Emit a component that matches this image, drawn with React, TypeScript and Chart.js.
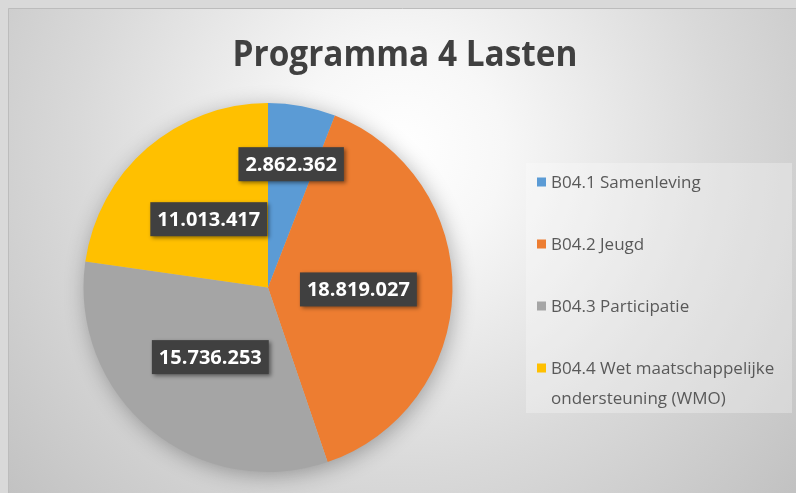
import React, { useEffect, useRef } from "react";
import { Chart, registerables } from "chart.js";

Chart.register(...registerables);

const W = 796;
const H = 493;

const chartTitle = "Programma 4 Lasten";
const categories: (string | string[])[] = [
  "B04.1 Samenleving",
  "B04.2 Jeugd",
  "B04.3 Participatie",
  ["B04.4 Wet maatschappelijke", "ondersteuning (WMO)"],
];
const lasten = [2862362, 18819027, 15736253, 11013417];
const sliceColors = ["#5B9BD5", "#ED7D31", "#A5A5A5", "#FFC000"];

// label distance from centre, as a fraction of the radius (style only)
const labelRadiusFactor = [0.68, 0.49, 0.49, 0.49];

const fmt = (v: number) => String(v).replace(/\B(?=(\d{3})+(?!\d))/g, ".");

const backgroundPlugin = {
  id: "excelBackground",
  beforeDraw(chart: any) {
    const ctx: CanvasRenderingContext2D = chart.ctx;
    ctx.save();
    ctx.fillStyle = "#d9d9d9";
    ctx.fillRect(0, 0, W, H);
    const g = ctx.createRadialGradient(400, 150, 0, 400, 150, 520);
    g.addColorStop(0, "#ffffff");
    g.addColorStop(0.2, "#f7f7f7");
    g.addColorStop(0.62, "#d9d9d9");
    g.addColorStop(1, "#c2c2c2");
    ctx.fillStyle = g;
    ctx.fillRect(8, 8, W - 8, H - 8);
    ctx.strokeStyle = "#bcbcbc";
    ctx.lineWidth = 1;
    ctx.beginPath();
    ctx.moveTo(8.5, H);
    ctx.lineTo(8.5, 8.5);
    ctx.lineTo(W, 8.5);
    ctx.stroke();

    // title
    ctx.font = 'bold 36px "Open Sans", sans-serif';
    const tw = ctx.measureText(chartTitle).width;
    const target = 345;
    const sx = target / tw;
    ctx.fillStyle = "#404040";
    ctx.textBaseline = "alphabetic";
    ctx.textAlign = "left";
    ctx.translate(405 - target / 2, 66);
    ctx.scale(sx, 1);
    ctx.fillText(chartTitle, 0, 0);
    ctx.restore();
  },
  beforeDatasetsDraw(chart: any) {
    const meta = chart.getDatasetMeta(0);
    if (!meta.data.length) return;
    const { x, y, outerRadius } = meta.data[0].getProps(["x", "y", "outerRadius"], true);
    const ctx: CanvasRenderingContext2D = chart.ctx;
    ctx.save();
    ctx.shadowColor = "rgba(0,0,0,0.32)";
    ctx.shadowBlur = 22;
    ctx.shadowOffsetX = 2;
    ctx.shadowOffsetY = 4;
    ctx.fillStyle = "#bbbbbb";
    ctx.beginPath();
    ctx.arc(x, y, outerRadius - 1, 0, Math.PI * 2);
    ctx.fill();
    ctx.restore();
  },
  afterDatasetsDraw(chart: any) {
    const meta = chart.getDatasetMeta(0);
    const ctx: CanvasRenderingContext2D = chart.ctx;
    const values = chart.data.datasets[0].data as number[];
    meta.data.forEach((arc: any, i: number) => {
      const { x, y, startAngle, endAngle, outerRadius } = arc.getProps(
        ["x", "y", "startAngle", "endAngle", "outerRadius"],
        true
      );
      const mid = (startAngle + endAngle) / 2;
      const r = outerRadius * labelRadiusFactor[i];
      const px = x + Math.cos(mid) * r;
      const py = y + Math.sin(mid) * r;
      const text = fmt(values[i]);
      ctx.save();
      ctx.font = 'bold 20px "Open Sans", sans-serif';
      const tw = ctx.measureText(text).width;
      const bw = tw + 14;
      const bh = 34;
      ctx.shadowColor = "rgba(0,0,0,0.45)";
      ctx.shadowBlur = 4;
      ctx.shadowOffsetX = 2;
      ctx.shadowOffsetY = 2;
      ctx.fillStyle = "#404040";
      ctx.fillRect(px - bw / 2, py - bh / 2, bw, bh);
      ctx.shadowColor = "transparent";
      ctx.fillStyle = "#ffffff";
      ctx.textAlign = "center";
      ctx.textBaseline = "middle";
      ctx.fillText(text, px, py + 1);
      ctx.restore();
    });
  },
  afterDraw(chart: any) {
    const ctx: CanvasRenderingContext2D = chart.ctx;
    const labels = chart.data.labels as (string | string[])[];
    const colors = chart.data.datasets[0].backgroundColor as string[];
    ctx.save();
    ctx.fillStyle = "rgba(255,255,255,0.28)";
    ctx.fillRect(526, 163, 266, 250);
    ctx.font = '17px "Open Sans", sans-serif';
    ctx.textBaseline = "middle";
    ctx.textAlign = "left";
    let y = 182;
    labels.forEach((lab, i) => {
      const lines = Array.isArray(lab) ? lab : [lab];
      ctx.fillStyle = colors[i];
      ctx.fillRect(537, y - 4.5, 9, 9);
      ctx.fillStyle = "#595959";
      lines.forEach((ln, j) => {
        ctx.fillText(ln, 551, y + j * 30 + 1);
      });
      y += 62;
    });
    ctx.restore();
  },
};

export default function App() {
  const ref = useRef<HTMLCanvasElement>(null);
  useEffect(() => {
    if (!ref.current) return;
    const chart = new Chart(ref.current, {
      type: "pie",
      data: {
        labels: categories as any,
        datasets: [
          {
            data: lasten,
            backgroundColor: sliceColors,
            borderWidth: 0,
          },
        ],
      },
      options: {
        responsive: false,
        animation: false,
        devicePixelRatio: 1,
        layout: { padding: { left: 83.5, right: 343.5, top: 103, bottom: 21 } },
        plugins: {
          legend: { display: false },
          tooltip: { enabled: false },
          title: { display: false },
        },
      },
      plugins: [backgroundPlugin],
    });
    return () => chart.destroy();
  }, []);
  return (
    <div style={{ position: "fixed", left: 0, top: 0, width: W, height: H }}>
      <canvas ref={ref} width={W} height={H} style={{ display: "block" }} />
    </div>
  );
}
